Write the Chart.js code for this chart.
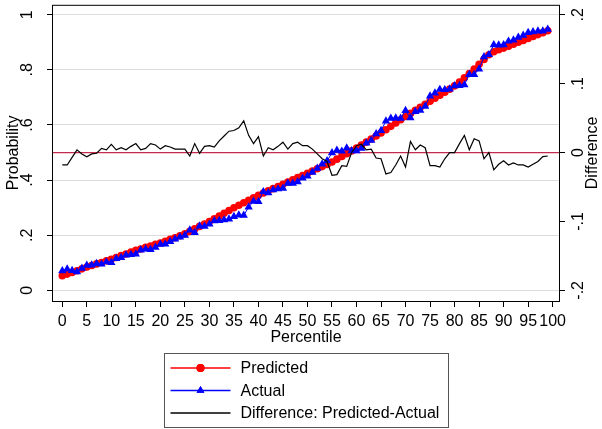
<!DOCTYPE html>
<html>
<head>
<meta charset="utf-8">
<script src="https://cdn.jsdelivr.net/npm/chart.js@4.4.0/dist/chart.umd.min.js"></script>
<style>
  html, body { margin: 0; padding: 0; background: #fff; }
  #wrap { width: 602px; height: 429px; position: relative; }
</style>
</head>
<body>
<div id="wrap"><canvas id="chart"></canvas></div>
<script>
const percentiles = [
  0, 1, 2, 3, 4, 5, 6, 7, 8, 9, 10, 11, 12, 13, 14, 15, 16, 17, 18, 19,
  20, 21, 22, 23, 24, 25, 26, 27, 28, 29, 30, 31, 32, 33, 34, 35, 36, 37, 38, 39,
  40, 41, 42, 43, 44, 45, 46, 47, 48, 49, 50, 51, 52, 53, 54, 55, 56, 57, 58, 59,
  60, 61, 62, 63, 64, 65, 66, 67, 68, 69, 70, 71, 72, 73, 74, 75, 76, 77, 78, 79,
  80, 81, 82, 83, 84, 85, 86, 87, 88, 89, 90, 91, 92, 93, 94, 95, 96, 97, 98, 99
];

const predicted = [
  .053, .059, .065, .071, .078, .085, .090, .096, .101, .107,
  .113, .119, .126, .132, .139, .145, .150, .156, .161, .167,
  .172, .178, .185, .191, .198, .205, .214, .223, .232, .241,
  .250, .260, .270, .280, .290, .300, .309, .318, .327, .336,
  .345, .353, .361, .369, .377, .385, .393, .401, .409, .417,
  .425, .433, .441, .449, .457, .466, .476, .486, .496, .506,
  .516, .527, .538, .549, .560, .571, .583, .595, .607, .619,
  .631, .642, .653, .664, .675, .686, .697, .708, .719, .730,
  .742, .756, .771, .787, .803, .820, .838, .855, .866, .873,
  .879, .886, .893, .900, .907, .914, .921, .928, .935, .942
];

const actual = [
  .071, .077, .072, .067, .080, .091, .092, .097, .095, .103,
  .101, .115, .119, .128, .130, .132, .146, .150, .148, .156,
  .167, .168, .177, .186, .193, .200, .219, .210, .233, .232,
  .240, .252, .253, .256, .259, .268, .273, .272, .302, .323,
  .322, .358, .354, .365, .368, .370, .388, .388, .394, .407,
  .415, .428, .443, .458, .470, .499, .508, .505, .516, .506,
  .506, .515, .534, .544, .568, .580, .614, .624, .625, .624,
  .652, .626, .649, .653, .668, .705, .716, .729, .728, .730,
  .742, .743, .746, .783, .783, .803, .847, .855, .891, .890,
  .891, .904, .908, .918, .925, .935, .938, .941, .941, .947
];

const difference = [
  -.018, -.018, -.007, .004, -.002, -.006, -.002, -.001, .006, .004,
  .012, .004, .007, .004, .009, .013, .004, .006, .013, .011,
  .005, .010, .008, .005, .005, .005, -.005, .013, -.001, .009,
  .010, .008, .017, .024, .031, .032, .036, .046, .025, .013,
  .023, -.005, .007, .004, .009, .015, .005, .013, .015, .010,
  .010, .005, -.002, -.009, -.013, -.033, -.032, -.019, -.020, .000,
  .010, .012, .004, .005, -.008, -.009, -.031, -.029, -.018, -.005,
  -.021, .016, .004, .011, .007, -.019, -.019, -.021, -.009, .000,
  .000, .013, .025, .004, .020, .017, -.009, .000, -.025, -.017,
  -.012, -.018, -.015, -.018, -.018, -.021, -.017, -.013, -.006, -.005
];

const xTicks = [0, 5, 10, 15, 20, 25, 30, 35, 40, 45, 50, 55, 60, 65, 70, 75, 80, 85, 90, 95, 100];
const probTicks = [0, .2, .4, .6, .8, 1];
const probTickLabels = ['0', '.2', '.4', '.6', '.8', '1'];
const diffTicks = [-.2, -.1, 0, .1, .2];
const diffTickLabels = ['-.2', '-.1', '0', '.1', '.2'];

const FONT = "'Liberation Sans', Arial, sans-serif";
const yMin = -0.0386, yMax = 1.0361;

const toPoints = (vals) => vals.map((v, i) => ({ x: percentiles[i], y: v }));

// red reference line at difference 0, black frame, right axis title
const framePlugin = {
  id: 'frame',
  beforeDatasetsDraw(chart) {
    const { ctx, chartArea } = chart;
    const y = chart.scales.y2.getPixelForValue(0);
    ctx.save();
    ctx.strokeStyle = '#c22a4e';
    ctx.lineWidth = 1.2;
    ctx.beginPath();
    ctx.moveTo(chartArea.left, y);
    ctx.lineTo(chartArea.right, y);
    ctx.stroke();
    ctx.restore();
  },
  afterDatasetsDraw(chart) {
    const { ctx, chartArea } = chart;
    ctx.save();
    ctx.strokeStyle = '#000';
    ctx.lineWidth = 1;
    ctx.strokeRect(chartArea.left + 0.5, chartArea.top + 0.5,
      chartArea.right - chartArea.left - 1, chartArea.bottom - chartArea.top);
    // Difference title reads bottom to top, like the left one
    ctx.translate(chart.width - 9, (chartArea.top + chartArea.bottom) / 2);
    ctx.rotate(-Math.PI / 2);
    ctx.font = '16px ' + FONT;
    ctx.fillStyle = '#000';
    ctx.textAlign = 'center';
    ctx.textBaseline = 'middle';
    ctx.fillText('Difference', 0, 0);
    ctx.restore();
  }
};

const legendItems = [
  { text: 'Predicted', color: '#ff0000', style: 'circle', radius: 4 },
  { text: 'Actual', color: '#0000ff', style: 'triangle', radius: 4.5 },
  { text: 'Difference: Predicted-Actual', color: '#000000', style: null }
];

const boxLegend = {
  id: 'boxLegend',
  afterDraw(chart) {
    const { ctx, chartArea } = chart;
    const w = 284, h = 74;
    const cx = (chartArea.left + chartArea.right) / 2;
    const left = Math.round(cx - w / 2) + 0.5;
    const top = 353.5;
    ctx.save();
    ctx.fillStyle = '#fff';
    ctx.fillRect(left, top, w, h);
    ctx.strokeStyle = '#555';
    ctx.lineWidth = 1;
    ctx.strokeRect(left, top, w, h);
    ctx.font = '16px ' + FONT;
    ctx.textBaseline = 'middle';
    ctx.textAlign = 'left';
    legendItems.forEach((item, i) => {
      const y = top + 14.5 + i * 22.5;
      ctx.strokeStyle = item.color;
      ctx.lineWidth = 1.5;
      ctx.beginPath();
      ctx.moveTo(left + 6, y);
      ctx.lineTo(left + 66, y);
      ctx.stroke();
      if (item.style) {
        ctx.fillStyle = item.color;
        Chart.helpers.drawPoint(ctx, { pointStyle: item.style, radius: item.radius, rotation: 0, borderWidth: 0 }, left + 36, y);
        ctx.fill();
      }
      ctx.fillStyle = '#000';
      ctx.fillText(item.text, left + 76, y + 1);
    });
    ctx.restore();
  }
};

new Chart(document.getElementById('chart'), {
  type: 'line',
  data: {
    datasets: [
      {
        label: 'Predicted',
        data: toPoints(predicted),
        yAxisID: 'y',
        borderColor: '#ff0000',
        backgroundColor: '#ff0000',
        borderWidth: 1,
        pointStyle: 'circle',
        pointRadius: 3.8,
        pointBorderWidth: 0,
        order: 3
      },
      {
        label: 'Actual',
        data: toPoints(actual),
        yAxisID: 'y',
        borderColor: '#0000ff',
        backgroundColor: '#0000ff',
        borderWidth: 1,
        pointStyle: 'triangle',
        pointRadius: 4.8,
        pointBorderWidth: 0,
        order: 2
      },
      {
        label: 'Difference: Predicted-Actual',
        data: toPoints(difference),
        yAxisID: 'y2',
        borderColor: '#000000',
        borderWidth: 1.2,
        pointRadius: 0,
        order: 1
      }
    ]
  },
  options: {
    responsive: true,
    maintainAspectRatio: false,
    animation: false,
    devicePixelRatio: 1,
    layout: { padding: { top: 3, bottom: 82, left: 0, right: 0 } },
    plugins: {
      legend: { display: false },
      tooltip: { enabled: false }
    },
    scales: {
      x: {
        type: 'linear',
        min: -2.1,
        max: 101.5,
        afterBuildTicks: (s) => { s.ticks = xTicks.map(v => ({ value: v })); },
        afterFit: (s) => { s.height = 46; s.paddingLeft = 0; s.paddingRight = 0; },
        border: { display: false },
        grid: { drawOnChartArea: false, drawTicks: true, tickLength: 6, tickColor: '#000', tickWidth: 1 },
        ticks: {
          autoSkip: false, maxRotation: 0, minRotation: 0, padding: 5,
          color: '#000', font: { family: FONT, size: 16 },
          callback: (v) => String(v)
        },
        title: { display: true, text: 'Percentile', color: '#000', font: { family: FONT, size: 16 }, padding: { top: 0, bottom: 0 } }
      },
      y: {
        type: 'linear',
        position: 'left',
        min: yMin,
        max: yMax,
        afterBuildTicks: (s) => { s.ticks = probTicks.map(v => ({ value: v })); },
        afterFit: (s) => { s.width = 52; s.paddingTop = 0; s.paddingBottom = 0; },
        border: { display: false },
        grid: { drawOnChartArea: true, color: '#dcdcdc', lineWidth: 1, drawTicks: true, tickLength: 5, tickColor: '#000', tickWidth: 1 },
        ticks: {
          minRotation: 90, maxRotation: 90, crossAlign: 'center', padding: 13,
          color: '#000', font: { family: FONT, size: 16 },
          callback: (v) => probTickLabels[probTicks.indexOf(v)]
        },
        title: { display: true, text: 'Probability', color: '#000', font: { family: FONT, size: 16 }, padding: { top: 4, bottom: 0 } }
      },
      y2: {
        type: 'linear',
        position: 'right',
        min: -0.2 + 0.4 * yMin,
        max: -0.2 + 0.4 * yMax,
        afterBuildTicks: (s) => { s.ticks = diffTicks.map(v => ({ value: v })); },
        afterFit: (s) => { s.width = 42; s.paddingTop = 0; s.paddingBottom = 0; },
        border: { display: false },
        grid: { drawOnChartArea: false, drawTicks: true, tickLength: 5, tickColor: '#000', tickWidth: 1 },
        ticks: {
          minRotation: 90, maxRotation: 90, crossAlign: 'center', padding: 4,
          color: '#000', font: { family: FONT, size: 16 },
          callback: (v) => diffTickLabels[diffTicks.indexOf(v)]
        },
        title: { display: false }
      }
    }
  },
  plugins: [framePlugin, boxLegend]
});
</script>
</body>
</html>
